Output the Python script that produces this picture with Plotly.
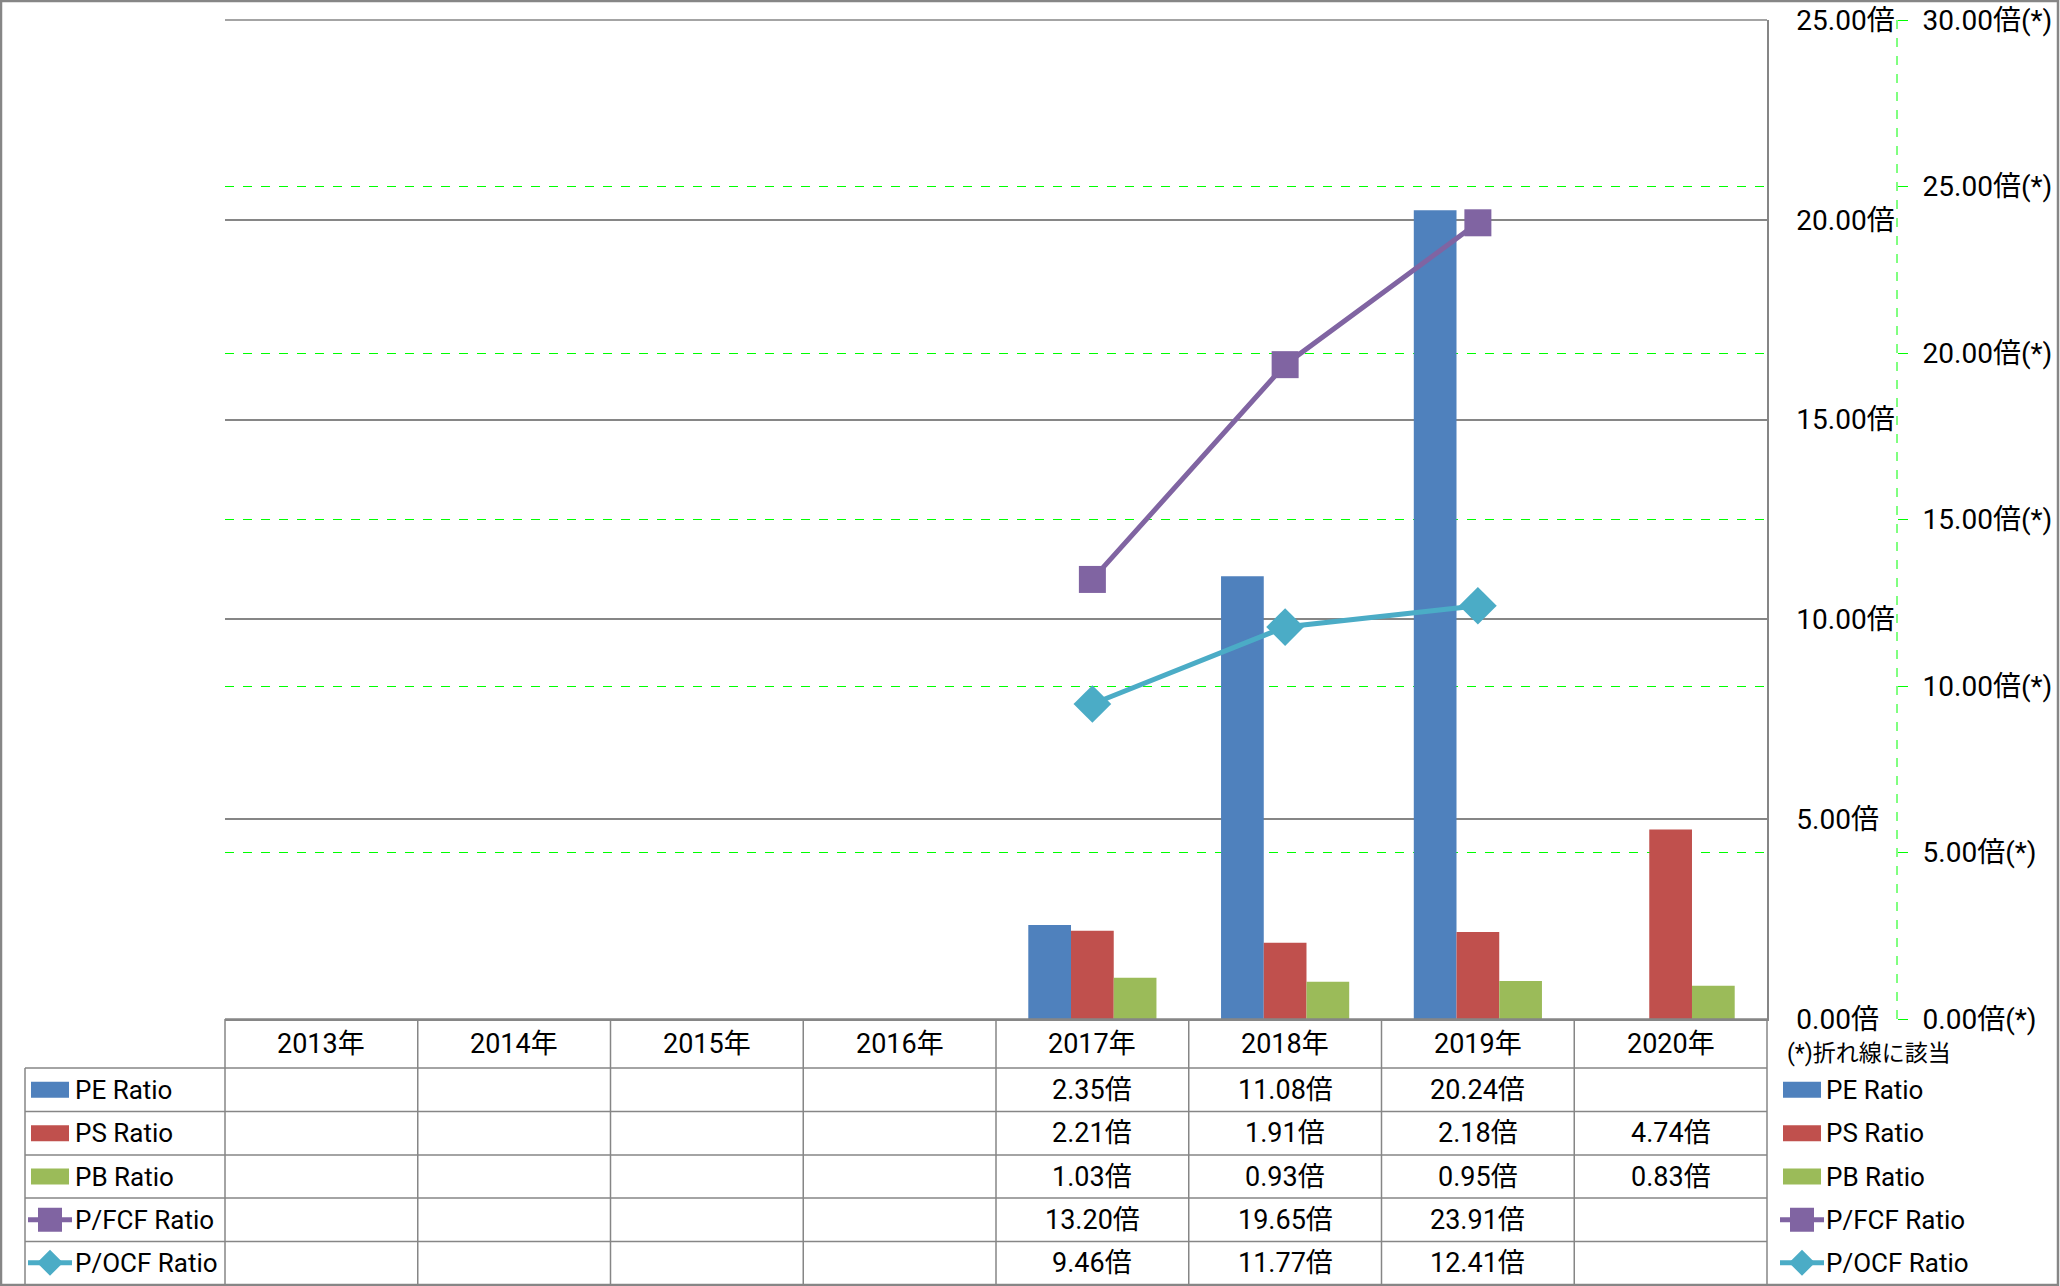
import plotly.graph_objects as go

W, H = 2060, 1286

years = ["2013年", "2014年", "2015年", "2016年", "2017年", "2018年", "2019年", "2020年"]
pe_ratio = [None, None, None, None, 2.35, 11.08, 20.24, None]
ps_ratio = [None, None, None, None, 2.21, 1.91, 2.18, 4.74]
pb_ratio = [None, None, None, None, 1.03, 0.93, 0.95, 0.83]
pfcf_ratio = [None, None, None, None, 13.20, 19.65, 23.91, None]
pocf_ratio = [None, None, None, None, 9.46, 11.77, 12.41, None]

names = ["PE Ratio", "PS Ratio", "PB Ratio", "P/FCF Ratio", "P/OCF Ratio"]
colors = ["#4F81BD", "#C0504D", "#9BBB59", "#8064A2", "#4BACC6"]
kinds = ["bar", "bar", "bar", "square", "diamond"]
series = [pe_ratio, ps_ratio, pb_ratio, pfcf_ratio, pocf_ratio]

GRAY = "#868686"
GREEN = "#00FF00"
FONT = "Roboto, 'Noto Sans CJK JP', sans-serif"

# plot area in pixels (margins are zero, so paper == whole figure)
X0, X1, Y0, Y1 = 225, 1767, 20, 1019
SEC_X = 1897
row_lines = [1068, 1111.5, 1155, 1198, 1241.5, 1284]
row_mid = [(row_lines[i] + row_lines[i + 1]) / 2 for i in range(5)]


def px(x):
    return x / W


def py(y):
    return 1 - y / H


fig = go.Figure()

for i in range(3):
    fig.add_trace(go.Bar(x=years, y=series[i], name=names[i], marker=dict(color=colors[i], line=dict(width=0)),
                         showlegend=False))

fig.add_trace(go.Scatter(x=years, y=pfcf_ratio, name=names[3], yaxis="y2", mode="lines+markers",
                         line=dict(color=colors[3], width=5),
                         marker=dict(symbol="square", size=27, color=colors[3]), showlegend=False))
fig.add_trace(go.Scatter(x=years, y=pocf_ratio, name=names[4], yaxis="y2", mode="lines+markers",
                         line=dict(color=colors[4], width=5),
                         marker=dict(symbol="diamond", size=29, color=colors[4]), showlegend=False))

shapes = []
annotations = []


def hline(y, xa, xb, color=GRAY, width=1.5, dash="solid"):
    shapes.append(dict(type="line", xref="paper", yref="paper", x0=px(xa), x1=px(xb), y0=py(y), y1=py(y),
                       line=dict(color=color, width=width, dash=dash)))


def vline(x, ya, yb, color=GRAY, width=1.5, dash="solid"):
    shapes.append(dict(type="line", xref="paper", yref="paper", x0=px(x), x1=px(x), y0=py(ya), y1=py(yb),
                       line=dict(color=color, width=width, dash=dash)))


def legend_key(left, cy, kind, color):
    if kind == "bar":
        shapes.append(dict(type="rect", xref="paper", yref="paper", x0=px(left), x1=px(left + 38),
                           y0=py(cy + 8), y1=py(cy - 8), line=dict(width=0), fillcolor=color))
        return
    shapes.append(dict(type="line", xref="paper", yref="paper", x0=px(left - 3), x1=px(left + 41),
                       y0=py(cy), y1=py(cy), line=dict(color=color, width=5)))
    cx = left + 19
    if kind == "square":
        shapes.append(dict(type="rect", xref="paper", yref="paper", x0=px(cx - 12), x1=px(cx + 12),
                           y0=py(cy + 12), y1=py(cy - 12), line=dict(width=0), fillcolor=color))
    else:
        r = 13
        path = "M{},{} L{},{} L{},{} L{},{} Z".format(px(cx - r), py(cy), px(cx), py(cy - r),
                                                      px(cx + r), py(cy), px(cx), py(cy + r))
        shapes.append(dict(type="path", xref="paper", yref="paper", path=path, line=dict(width=0),
                           fillcolor=color))


# secondary axis line (dashed green)
vline(SEC_X, Y0, Y1, color=GREEN, width=1, dash="dash")

# top gridline of the primary axis
hline(Y0, X0, X1)

# data table grid
col_w = (X1 - X0) / len(years)
for i in range(len(years) + 1):
    vline(X0 + i * col_w, Y1, 1284)
vline(25, row_lines[0], 1284)
hline(Y1, X0, X1)
for y in row_lines[:-1]:
    hline(y, 25, X1)

# header row
for yr in years:
    annotations.append(dict(x=yr, xref="x", y=py((Y1 + row_lines[0]) / 2), yref="paper", text=yr,
                            showarrow=False, xanchor="center", yanchor="middle"))

# table rows + legend keys
for r in range(5):
    cy = row_mid[r]
    legend_key(31, cy, kinds[r], colors[r])
    annotations.append(dict(x=px(73), xref="paper", y=py(cy), yref="paper", text=names[r],
                            showarrow=False, xanchor="left", yanchor="middle", font=dict(size=26)))
    legend_key(1783, cy, kinds[r], colors[r])
    annotations.append(dict(x=px(1824), xref="paper", y=py(cy), yref="paper", text=names[r],
                            showarrow=False, xanchor="left", yanchor="middle", font=dict(size=26)))
    for yr, v in zip(years, series[r]):
        if v is None:
            continue
        annotations.append(dict(x=yr, xref="x", y=py(cy), yref="paper", text=f"{v:.2f}倍",
                                showarrow=False, xanchor="center", yanchor="middle"))

annotations.append(dict(x=px(1785), xref="paper", y=py(1053), yref="paper", text="(*)折れ線に該当",
                        showarrow=False, xanchor="left", yanchor="middle", font=dict(size=23)))

# outer chart border
shapes.append(dict(type="rect", xref="paper", yref="paper", x0=px(1), x1=px(2058), y0=py(1285), y1=py(1),
                   line=dict(color=GRAY, width=2.5)))

fig.update_layout(
    width=W,
    height=H,
    margin=dict(l=0, r=0, t=0, b=0, pad=0, autoexpand=False),
    paper_bgcolor="white",
    plot_bgcolor="white",
    font=dict(family=FONT, size=27, color="black"),
    barmode="group",
    bargap=0.335,
    bargroupgap=0,
    xaxis=dict(domain=[px(X0), px(X1)], type="category", categoryorder="array", categoryarray=years,
               range=[-0.5, 7.5], showticklabels=False, ticks="", showgrid=False, zeroline=False,
               showline=True, linecolor=GRAY, linewidth=1.5),
    yaxis=dict(domain=[py(Y1), py(Y0)], side="right", range=[0, 25], dtick=5, tickformat=".2f",
               ticksuffix="倍", showgrid=True, gridcolor=GRAY, gridwidth=1.5, zeroline=False,
               showline=True, linecolor=GRAY, linewidth=1.5, ticks="", ticklabelstandoff=22,
               tickfont=dict(size=28), automargin=False),
    yaxis2=dict(overlaying="y", side="right", anchor="free", position=px(SEC_X), range=[0, 30], dtick=5,
                tickformat=".2f", ticksuffix="倍(*)", showgrid=True, gridcolor=GREEN, gridwidth=1,
                griddash="dash", zeroline=False, showline=False, ticks="outside", ticklen=10,
                tickcolor=GREEN, tickwidth=1, ticklabelstandoff=9, tickfont=dict(size=28),
                automargin=False),
    shapes=shapes,
    annotations=annotations,
    showlegend=False,
)

# page body has a default 8px margin; remove it so the figure fills the window
fig.write_html("out.html", config={"displayModeBar": False},
               post_script="document.body.style.margin='0';")
